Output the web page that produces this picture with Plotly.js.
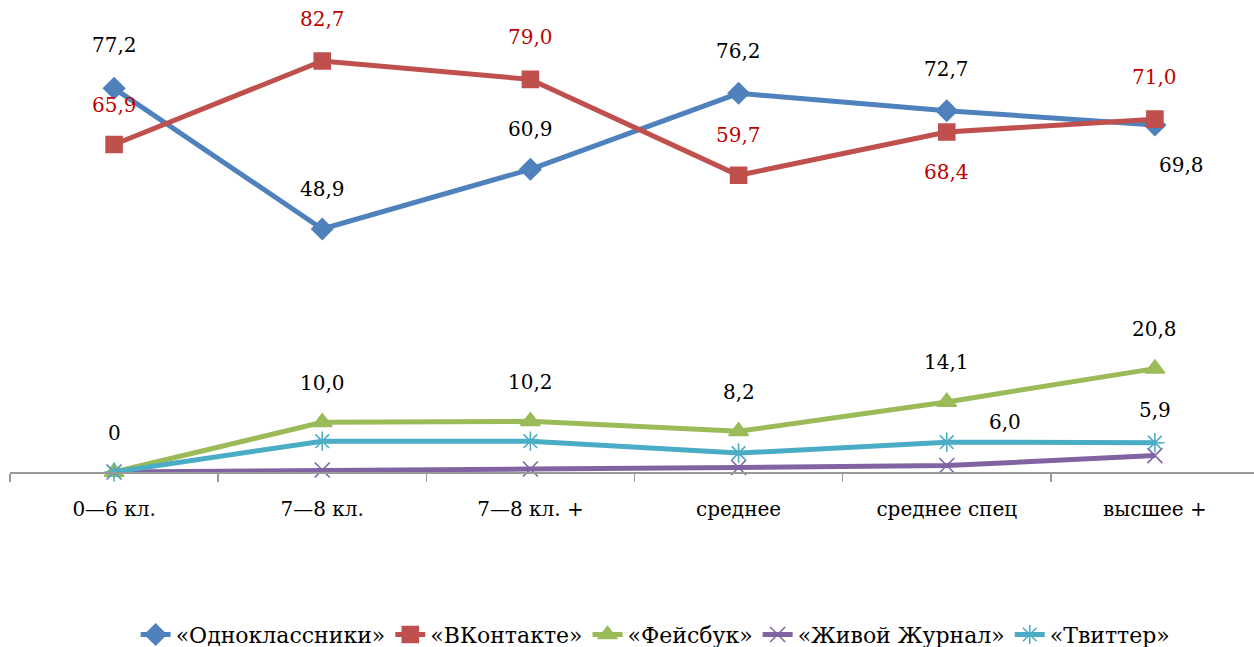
<!DOCTYPE html>
<html><head><meta charset="utf-8">
<script src="https://cdn.plot.ly/plotly-3.0.1.min.js"></script>
<style>html,body{margin:0;padding:0;background:#fff;}#chart{width:1254px;height:647px;}</style>
</head><body><div id="chart"></div>
<script>
var categories = ["0—6 кл.", "7—8 кл.", "7—8 кл. +", "среднее", "среднее спец", "высшее +"];
var odnoklassniki = [77.2, 48.9, 60.9, 76.2, 72.7, 69.8];
var vkontakte = [65.9, 82.7, 79.0, 59.7, 68.4, 71.0];
var facebook = [0, 10.0, 10.2, 8.2, 14.1, 20.8];
var livejournal = [0, 0.4, 0.6, 0.9, 1.3, 3.3];
var twitter = [0, 6.2, 6.2, 3.8, 6.0, 5.9];
var seriesNames = ["«Одноклассники»", "«ВКонтакте»", "«Фейсбук»", "«Живой Журнал»", "«Твиттер»"];

var FONT = "DejaVu Serif";
var colors = ["#4F81BD", "#C0504D", "#9BBB59", "#8064A2", "#4BACC6"];
var symbols = ["diamond", "square", "triangle-up", "x-thin-open", "asterisk-open"];
var sizes = [16, 16, 17, 15, 16];
var allData = [odnoklassniki, vkontakte, facebook, livejournal, twitter];

var traces = allData.map(function (vals, i) {
  return {
    type: "scatter", mode: "lines+markers",
    x: categories, y: vals, name: seriesNames[i],
    line: {color: colors[i], width: 5},
    marker: {symbol: symbols[i], size: sizes[i], color: colors[i], line: {color: colors[i], width: 1.6}},
    cliponaxis: false
  };
});

function fmt(v) { return v === 0 ? "0" : v.toFixed(1).replace(".", ","); }

// which points are labelled, with their offsets (px)
var labelSpec = [
  {s: 0, color: "#000", pts: [[0,0,43],[1,0,40],[2,0,40],[3,0,42],[4,0,42],[5,27,-40]]},
  {s: 1, color: "#C00000", pts: [[0,0,39],[1,0,42],[2,0,42],[3,0,40],[4,0,-40],[5,0,42]]},
  {s: 2, color: "#000", pts: [[0,0,39],[1,0,39],[2,0,39],[3,0,39],[4,0,40],[5,0,40]]},
  {s: 4, color: "#000", pts: [[4,58,20],[5,0,33]]}
];
var annotations = [];
labelSpec.forEach(function (sp) {
  sp.pts.forEach(function (p) {
    var idx = p[0];
    annotations.push({
      x: categories[idx], y: allData[sp.s][idx], xref: "x", yref: "y",
      text: fmt(allData[sp.s][idx]), showarrow: false,
      xshift: p[1], yshift: p[2],
      font: {family: FONT, size: 20, color: sp.color}
    });
  });
});

var layout = {
  width: 1254, height: 647,
  margin: {l: 10, r: 0, t: 0, b: 175, autoexpand: false},
  paper_bgcolor: "#fff", plot_bgcolor: "#fff",
  showlegend: true,
  legend: {orientation: "h", x: 0.519, xanchor: "center", yref: "container", y: 0.019, yanchor: "middle",
           font: {family: FONT, size: 22, color: "#000"}, traceorder: "normal", itemwidth: 30,
           tracegroupgap: 0},
  xaxis: {type: "category", range: [-0.5, 5.476], showgrid: false, zeroline: false, automargin: false,
          showline: true, linecolor: "#999", linewidth: 1.5,
          ticks: "outside", tickson: "boundaries", ticklen: 8, tickcolor: "#999", tickwidth: 1.5,
          ticklabelstandoff: 18,
          tickfont: {family: FONT, size: 20, color: "#000"}},
  yaxis: {range: [0, 94.97], visible: false, showgrid: false, zeroline: false, fixedrange: true, automargin: false},
  annotations: annotations,
  font: {family: FONT}
};

Plotly.newPlot("chart", traces, layout, {displayModeBar: false, staticPlot: true});
</script>
</body></html>
